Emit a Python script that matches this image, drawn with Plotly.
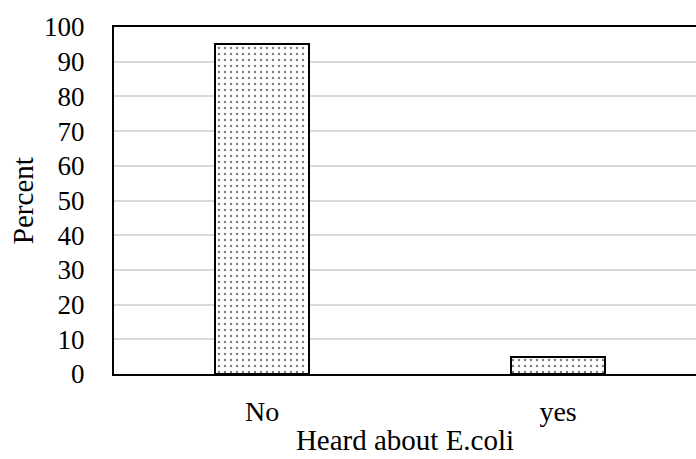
import plotly.graph_objects as go

categories = ["No", "yes"]
percent = [95, 5]
y_ticks = [0, 10, 20, 30, 40, 50, 60, 70, 80, 90, 100]

FONT = "Liberation Serif, Times New Roman, serif"

fig = go.Figure(
    go.Bar(
        x=categories,
        y=percent,
        width=0.318,
        marker=dict(
            color="white",
            line=dict(color="black", width=2),
            pattern=dict(shape=".", fgcolor="black", bgcolor="white", size=6, solidity=0.13),
        ),
    )
)

fig.update_layout(
    width=696,
    height=459,
    margin=dict(l=114, r=0, t=27, b=85),
    paper_bgcolor="white",
    plot_bgcolor="white",
    font=dict(family=FONT, size=27, color="black"),
    showlegend=False,
    bargap=0,
)

fig.update_xaxes(
    range=[-0.5, 1.466],
    showline=True,
    linecolor="black",
    linewidth=2,
    mirror=True,
    showgrid=False,
    ticks="",
    tickfont=dict(size=28),
    ticklabelstandoff=11,
    title=dict(text="Heard about E.coli", standoff=4, font=dict(size=29)),
)

fig.update_yaxes(
    range=[0, 100],
    tickvals=y_ticks,
    showline=True,
    linecolor="black",
    linewidth=2,
    showgrid=True,
    gridcolor="#d9d9d9",
    gridwidth=1.5,
    zeroline=False,
    ticks="",
    tickfont=dict(size=27),
    ticklabelstandoff=22,
)

# vertical y-axis title
fig.add_annotation(
    text="Percent",
    xref="paper", yref="paper",
    x=-0.157, y=0.5,
    xanchor="center", yanchor="middle",
    textangle=-90,
    showarrow=False,
    font=dict(family=FONT, size=29, color="black"),
)

fig.write_html("out.html")
